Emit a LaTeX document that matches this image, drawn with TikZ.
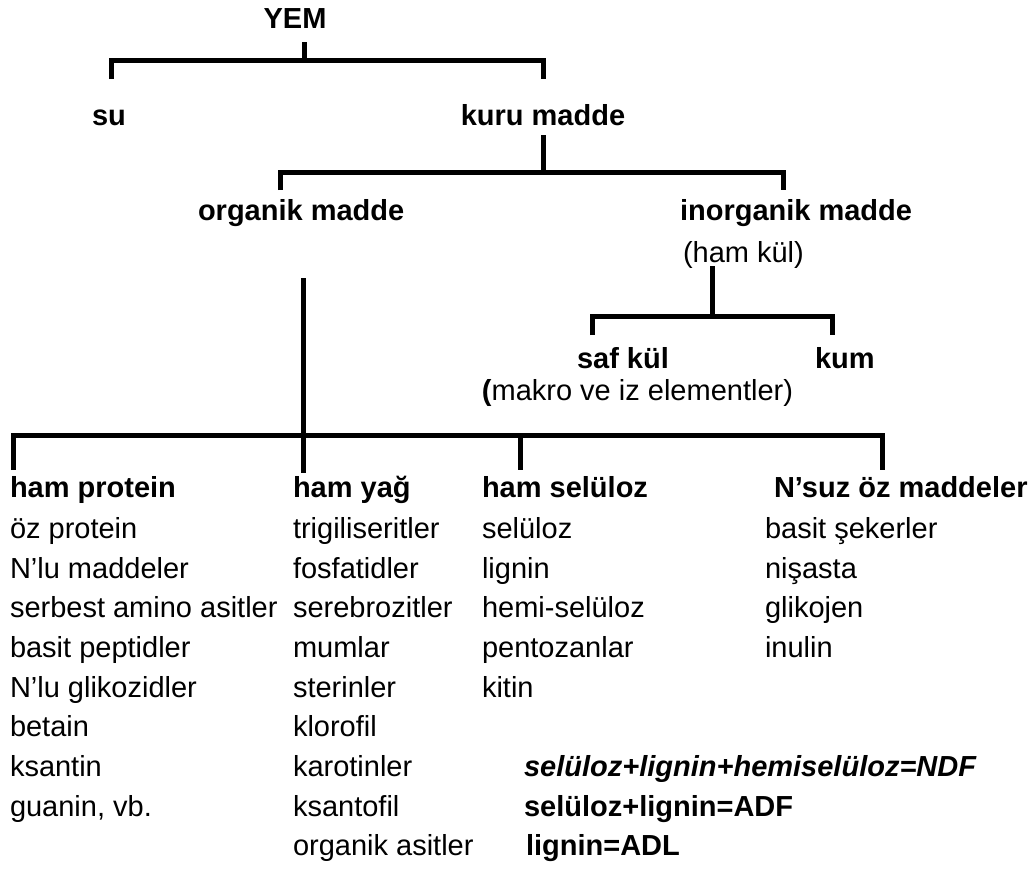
\documentclass[tikz,border=0pt]{standalone}
\usepackage{fontspec}
\setmainfont{Liberation Sans}
\begin{document}
\begin{tikzpicture}[x=1pt,y=-1pt,
  br/.style={line width=5pt,line join=miter,line cap=butt},
  lbl/.style={inner sep=0pt,outer sep=0pt,font=\fontsize{29}{33}\selectfont},
  bl/.style={lbl,font=\fontsize{29}{33}\selectfont\bfseries},
  item/.style={lbl,anchor=base west}]
\useasboundingbox (0,0) rectangle (1032,868);
% top level
\node[bl,anchor=base] (yem) at (295,28) {YEM};
\node[bl,anchor=base west] (su) at (92,125) {su};
\node[bl,anchor=base] (kuru) at (543,125) {kuru madde};
\node[bl,anchor=base west] (org) at (198,220) {organik madde};
\node[bl,anchor=base west] (inorg) at (680,220) {inorganik madde};
\node[item] (hamkul) at (683,262) {(ham kül)};
\node[bl,anchor=base west] (saf) at (577,368) {saf kül};
\node[bl,anchor=base west] (kum) at (815,368) {kum};
\node[lbl,anchor=base east] (makro) at (793,400) {\textbf{(}makro ve iz elementler)};
% headings
\node[bl,anchor=base west] (hp) at (10,497) {ham protein};
\node[bl,anchor=base west] (hy) at (293,497) {ham yağ};
\node[bl,anchor=base west] (hs) at (482,497) {ham selüloz};
\node[bl,anchor=base west] (nsuz) at (774,497) {N’suz öz maddeler};
% column 1
\node[item] (p1) at (10,538) {öz protein};
\node[item] (p2) at (10,578) {N’lu maddeler};
\node[item] (p3) at (10,617) {serbest amino asitler};
\node[item] (p4) at (10,657) {basit peptidler};
\node[item] (p5) at (10,697) {N’lu glikozidler};
\node[item] (p6) at (10,736) {betain};
\node[item] (p7) at (10,776) {ksantin};
\node[item] (p8) at (10,816) {guanin, vb.};
% column 2
\node[item] (y1) at (293,538) {trigiliseritler};
\node[item] (y2) at (293,578) {fosfatidler};
\node[item] (y3) at (293,617) {serebrozitler};
\node[item] (y4) at (293,657) {mumlar};
\node[item] (y5) at (293,697) {sterinler};
\node[item] (y6) at (293,736) {klorofil};
\node[item] (y7) at (293,776) {karotinler};
\node[item] (y8) at (293,816) {ksantofil};
\node[item] (y9) at (293,855) {organik asitler};
% column 3
\node[item] (s1) at (482,538) {selüloz};
\node[item] (s2) at (482,578) {lignin};
\node[item] (s3) at (482,617) {hemi-selüloz};
\node[item] (s4) at (482,657) {pentozanlar};
\node[item] (s5) at (482,697) {kitin};
% column 4
\node[item] (n1) at (765,538) {basit şekerler};
\node[item] (n2) at (765,578) {nişasta};
\node[item] (n3) at (765,617) {glikojen};
\node[item] (n4) at (765,657) {inulin};
% formulas
\node[bl,anchor=base west] (ndf) at (524,776) {\itshape selüloz+lignin+hemiselüloz=NDF};
\node[bl,anchor=base west] (adf) at (524,816) {selüloz+lignin=ADF};
\node[bl,anchor=base west] (adl) at (526,855) {lignin=ADL};
% junction coordinates
\coordinate (t1) at (304,42);
\coordinate (j1) at (304,60);
\coordinate (a1) at (111,60);
\coordinate (a1b) at (111,79);
\coordinate (b1) at (543,60);
\coordinate (b1b) at (543,79);
\coordinate (t2) at (543,135);
\coordinate (j2) at (543,175);
\coordinate (a2) at (280,172);
\coordinate (a2b) at (280,190);
\coordinate (b2) at (783,172);
\coordinate (b2b) at (783,190);
\coordinate (t3) at (712,266);
\coordinate (j3) at (712,316);
\coordinate (a3) at (592,316);
\coordinate (a3b) at (592,335);
\coordinate (b3) at (832,316);
\coordinate (b3b) at (832,335);
\coordinate (t4) at (303,278);
\coordinate (j4) at (303,473);
\coordinate (a4) at (13,435);
\coordinate (a4b) at (13,470);
\coordinate (b4) at (882,435);
\coordinate (b4b) at (882,470);
\coordinate (c4) at (520,435);
\coordinate (c4b) at (520,470);
% brackets
\draw[br] (t1) -- (j1);
\draw[br] (a1b) -- (a1) -- (b1) -- (b1b);
\draw[br] (t2) -- (j2);
\draw[br] (a2b) -- (a2) -- (b2) -- (b2b);
\draw[br] (t3) -- (j3);
\draw[br] (a3b) -- (a3) -- (b3) -- (b3b);
\draw[br] (t4) -- (j4);
\draw[br] (a4b) -- (a4) -- (b4) -- (b4b);
\draw[br] (c4) -- (c4b);
\end{tikzpicture}
\end{document}
